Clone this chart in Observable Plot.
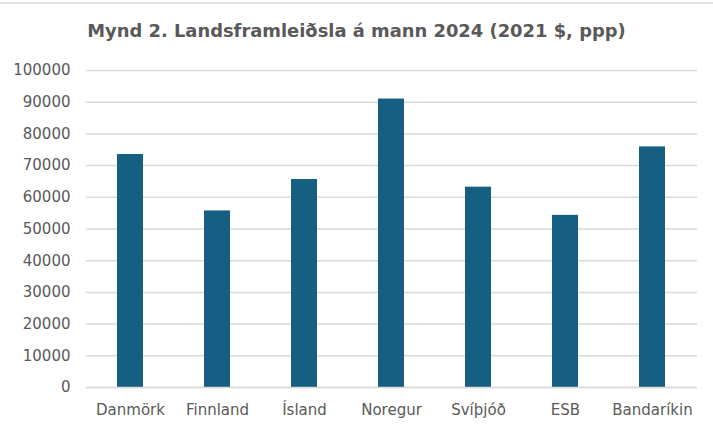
<!DOCTYPE html>
<html>
<head>
<meta charset="utf-8">
<script src="https://cdn.jsdelivr.net/npm/d3@7"></script>
<script src="https://cdn.jsdelivr.net/npm/@observablehq/plot@0.6"></script>
<style>
  html, body { margin: 0; padding: 0; background: #fff; }
  #wrap { width: 713px; height: 431px; overflow: hidden; position: relative; }
  #topline { position: absolute; left: 0; top: 2px; width: 713px; height: 2px; background: #e4e4e4; }
  #title { position: absolute; left: 0; top: 0; width: 713px; height: 52px; line-height: 62px;
           text-align: center; font-family: "DejaVu Sans", sans-serif; font-weight: bold;
           font-size: 17.9px; color: #595959; }
  #chart { position: absolute; left: 0; top: 52px; }
</style>
</head>
<body>
<div id="wrap">
  <div id="topline"></div>
  <div id="title">Mynd 2. Landsframleiðsla á mann 2024 (2021 $, ppp)</div>
  <div id="chart"></div>
</div>
<script>
const categories = ["Danmörk", "Finnland", "Ísland", "Noregur", "Svíþjóð", "ESB", "Bandaríkin"];
const values = [73500, 55700, 65600, 91000, 63200, 54300, 75900];
const yTicks = [0, 10000, 20000, 30000, 40000, 50000, 60000, 70000, 80000, 90000, 100000];

const data = categories.map((c, i) => ({category: c, value: values[i]}));

const chart = Plot.plot({
  width: 713,
  height: 379,
  marginTop: 18,
  marginBottom: 44,
  marginLeft: 86,
  marginRight: 16,
  style: {fontFamily: "DejaVu Sans, sans-serif", fontSize: "15px", color: "#595959", background: "#fff"},
  x: {domain: categories, paddingInner: 0.7, paddingOuter: 0.35, label: null},
  y: {domain: [0, 100000], label: null},
  marks: [
    Plot.gridY(yTicks, {stroke: "#d9d9d9", strokeOpacity: 1, strokeWidth: 1.5}),
    Plot.barY(data, {x: "category", y: "value", fill: "#156082"}),
    Plot.ruleY([0], {stroke: "#d9d9d9", strokeWidth: 1.5}),
    Plot.axisY(yTicks, {tickSize: 0, tickPadding: 16, tickFormat: d3.format("d"), fill: "#595959", fontSize: 15}),
    Plot.axisX({tickSize: 0, tickPadding: 17, fill: "#595959", fontSize: 15})
  ]
});
document.getElementById("chart").appendChild(chart);
</script>
</body>
</html>
